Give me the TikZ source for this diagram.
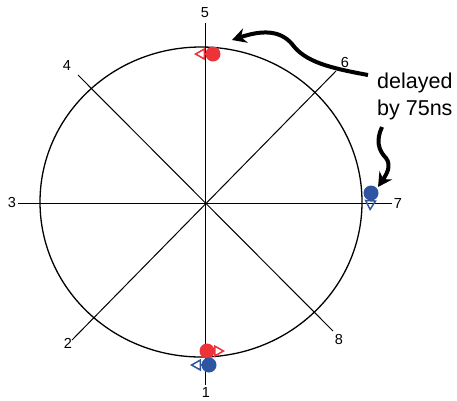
\documentclass[tikz,border=0pt]{standalone}
\usepackage{fontspec}
\setmainfont{Liberation Sans}
\usetikzlibrary{arrows.meta}
\definecolor{redc}{RGB}{236,52,56}
\definecolor{bluec}{RGB}{47,85,160}
\begin{document}
\begin{tikzpicture}[x=1pt,y=-1pt,
  axis/.style={line width=1pt,black},
  num/.style={font=\fontsize{14.5}{16}\selectfont,inner sep=0pt},
  dot/.style={circle,inner sep=0pt,minimum size=15pt},
  vec/.style={line width=1.5pt,-{Triangle[open,length=11pt,width=12pt]}},
  bigarrow/.style={line width=4pt,-{Stealth[length=14pt,width=15pt]}}]
\useasboundingbox (0,0) rectangle (457,400);
% axes
\coordinate (c) at (205,203);
\coordinate (eW) at (18,203);
\coordinate (eE) at (392,203);
\coordinate (eN) at (205,23);
\coordinate (eS) at (205,385);
\coordinate (eNW) at (78,75);
\coordinate (eSE) at (333,331);
\coordinate (eNE) at (336,71);
\coordinate (eSW) at (72,340);
\draw[axis] (eW) -- (eE);
\draw[axis] (eN) -- (eS);
\draw[axis] (eNW) -- (eSE);
\draw[axis] (eNE) -- (eSW);
\draw[line width=1.3pt] (201,202) ellipse [x radius=161, y radius=155];
% labels
\node[num] (l1) at (206,393) {1};
\node[num] (l2) at (68,343) {2};
\node[num] (l3) at (12,203) {3};
\node[num] (l4) at (67,66) {4};
\node[num] (l5) at (205,13) {5};
\node[num] (l6) at (345,63) {6};
\node[num] (l7) at (398,204) {7};
\node[num] (l8) at (339,339) {8};
% vectors
\coordinate (t1) at (194,54);
\coordinate (t2) at (225,351);
\coordinate (t3) at (190,365);
\coordinate (t4) at (370,211);
\node[dot] (r1) at (213,54) {};
\node[dot] (r2) at (207,351) {};
\node[dot] (b1) at (209,365) {};
\node[dot] (b2) at (371,193) {};
\draw[vec,redc] (r1.center) -- (t1);
\draw[vec,redc] (r2.center) -- (t2);
\draw[vec,bluec] (b1.center) -- (t3);
\draw[vec,bluec] (b2.center) -- (t4);
\fill[redc] (r1) circle (7.5);
\fill[redc] (r2) circle (7.5);
\fill[bluec] (b1) circle (7.5);
\fill[bluec] (b2) circle (7.5);
% text
\node[anchor=base west,inner sep=0pt,align=left,font=\fontsize{21.5}{27}\selectfont] (txt) at (377,115) {delayed\\by 75ns};
% big arrows
\coordinate (s1) at (368,75);
\coordinate (s2) at (382,127);
\draw[bigarrow] (s1) .. controls (330,68) and (305,62) .. (292,44)
  .. controls (280,30) and (262,30) .. (232,40);
\draw[bigarrow] (s2) .. controls (376,140) and (378,150) .. (386,158)
  .. controls (392,166) and (386,175) .. (378,187);
\end{tikzpicture}
\end{document}
